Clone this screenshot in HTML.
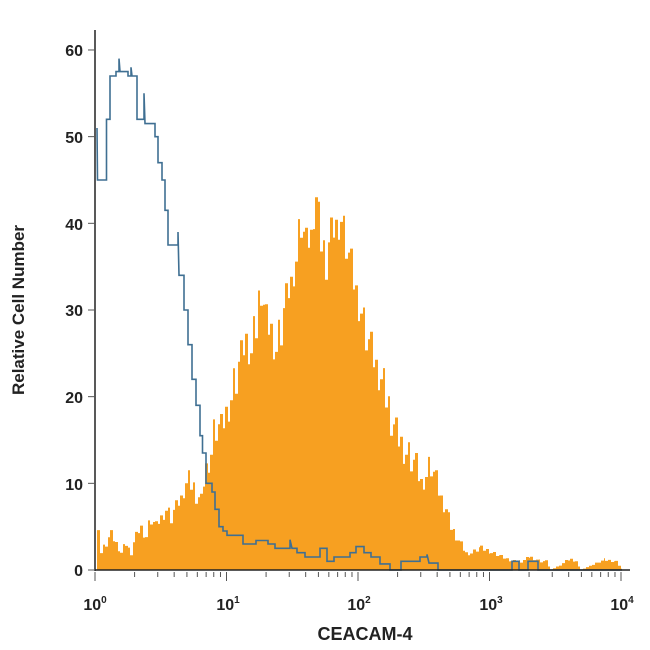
<!DOCTYPE html>
<html><head><meta charset="utf-8"><style>
body{margin:0;background:#fff;width:650px;height:650px;overflow:hidden}
svg{display:block}
text{font-family:"Liberation Sans",sans-serif;fill:#222}
</style></head><body>
<svg id="s" width="650" height="650" viewBox="0 0 650 650">
<path id="orange" fill="#f7a021" stroke="none"/>
<path id="blue" fill="none" stroke="#3f6f92" stroke-width="1.6"/>
<line x1="95" y1="30" x2="95" y2="571" stroke="#222" stroke-width="1.5"/>
<line x1="95" y1="570" x2="630" y2="570" stroke="#222" stroke-width="1.5"/>
<g id="ticks" stroke="#555" stroke-width="1"></g>
<g font-size="16" text-anchor="end" font-weight="bold">
<text x="83" y="576">0</text><text x="83" y="490">10</text><text x="83" y="403">20</text>
<text x="83" y="316">30</text><text x="83" y="230">40</text><text x="83" y="143">50</text><text x="83" y="56">60</text>
</g>
<g font-size="16" font-weight="bold" text-anchor="middle">
<text x="95" y="610">10<tspan font-size="10" dy="-7">0</tspan></text>
<text x="228" y="610">10<tspan font-size="10" dy="-7">1</tspan></text>
<text x="359" y="610">10<tspan font-size="10" dy="-7">2</tspan></text>
<text x="491" y="610">10<tspan font-size="10" dy="-7">3</tspan></text>
<text x="622" y="610">10<tspan font-size="10" dy="-7">4</tspan></text>
</g>
<text x="365" y="640" font-size="18" font-weight="bold" text-anchor="middle">CEACAM-4</text>
<text transform="translate(24,310) rotate(-90)" font-size="17" font-weight="bold" text-anchor="middle">Relative Cell Number</text>
</svg>
<script>
function Y(v){return 570-v*8.667;}
var o=[[97,4],[100,2],[105,3],[110,4],[115,3],[120,2],[125,3],[130,2],[135,4],[140,5],[145,4],[150,6],[155,5],[160,6],[165,7],[170,6],[175,7],[180,8],[185,10],[190,10],[195,9],[200,8],[205,12],[210,14],[215,17],[220,16],[225,18],[230,20],[235,22],[240,24],[245,26],[250,25],[255,28],[260,33],[265,29],[270,28],[275,26],[280,28],[285,31],[290,33],[295,36],[300,40],[305,37],[310,38],[315,43],[320,38],[325,36],[330,39],[335,40],[340,41],[345,38],[350,35],[355,32],[360,30],[365,27],[370,25],[375,23],[380,22],[385,20],[390,18],[395,16],[400,15],[405,14],[410,13],[415,12],[420,10],[425,11],[430,12],[435,10],[440,8],[445,7],[450,5],[455,4],[460,3],[465,2],[470,2],[480,2.5],[490,2],[500,1.5],[510,1],[520,1],[530,1.5],[540,1],[545,1],[550,0],[565,1],[570,1.2],[575,1],[580,0],[598,1],[605,1.2],[615,1],[622,0]];
var d="M97 570",i;
for(i=0;i<o.length-1;i++){var x0=o[i][0],x1=o[i+1][0],v0=o[i][1],v1=o[i+1][1];
 for(var x=x0;x<x1;x+=3){var t=(x-x0)/(x1-x0);var v=v0+(v1-v0)*t;if(v>0.5)v+=((x*7919)%13-6)/6*Math.min(2.5,v*0.15);if(v<0)v=0;
  d+=" L"+x+" "+Y(v).toFixed(1)+" L"+Math.min(x+3,x1)+" "+Y(v).toFixed(1);}}
d+=" L622 570 Z";document.getElementById('orange').setAttribute('d',d);
var s=[[97,51],[97.5,45],[106.5,45],[106.5,52],[110,52],[110,57],[116,57],[116,57.5],[119,57.5],[119,59],[120,57.5],[128,57.5],[128,57],[131,57],[131,58],[132,57],[137,57],[137,52],[144,52],[144,55],[145,51.5],[155,51.5],[155,50],[158,50],[158,47],[162,47],[162,45],[165,45],[165,41.5],[168,41.5],[168,37.5],[178,37.5],[178,39],[179,34],[184,34],[184,30],[188,30],[188,26],[192,26],[192,22],[196,22],[196,19],[200,19],[200,15.5],[202.5,15.5],[202.5,13.5],[206,13.5],[206,10],[212,10],[212,9],[215,9],[215,7],[219,7],[219,5],[223,5],[223,4.5],[227,4.5],[227,4],[243,4],[243,3],[256,3],[256,3.4],[268,3.4],[268,3],[275,3],[275,2.5],[290,2.5],[290,3.5],[292,2.5],[297,2.5],[297,2],[305,2],[305,1.5],[312,1.5],[312,1.5],[320,1.5],[320,2.5],[327,2.5],[327,1],[334,1],[334,1.5],[350,1.5],[350,2],[356,2],[356,2.7],[364,2.7],[364,2],[371,2],[371,1.5],[380,1.5],[380,0.7],[390,0.7],[390,0],[401,0],[401,1],[420,1],[420,1.5],[427,1.5],[427,1.8],[429,0.8],[438,0.8],[438,0],[512,0],[512,1],[519,1],[519,0],[528,0],[528,1],[538,1],[538,0],[622,0]];
document.getElementById('blue').setAttribute('d',"M"+s.map(function(p){return p[0]+" "+Y(p[1]).toFixed(1)}).join(" L"));
var g=document.getElementById('ticks'),h="";
[0,10,20,30,40,50,60].forEach(function(v){h+='<line x1="88" x2="95" y1="'+Y(v)+'" y2="'+Y(v)+'"/>';});
for(var dd=0;dd<4;dd++)for(var k=1;k<=10;k++){var x=95+131.5*(dd+Math.log10(k));var L=(k==1||k==10)?9:5;h+='<line x1="'+x+'" x2="'+x+'" y1="572" y2="'+(572+L)+'"/>';}
g.innerHTML=h;
</script>
</body></html>
